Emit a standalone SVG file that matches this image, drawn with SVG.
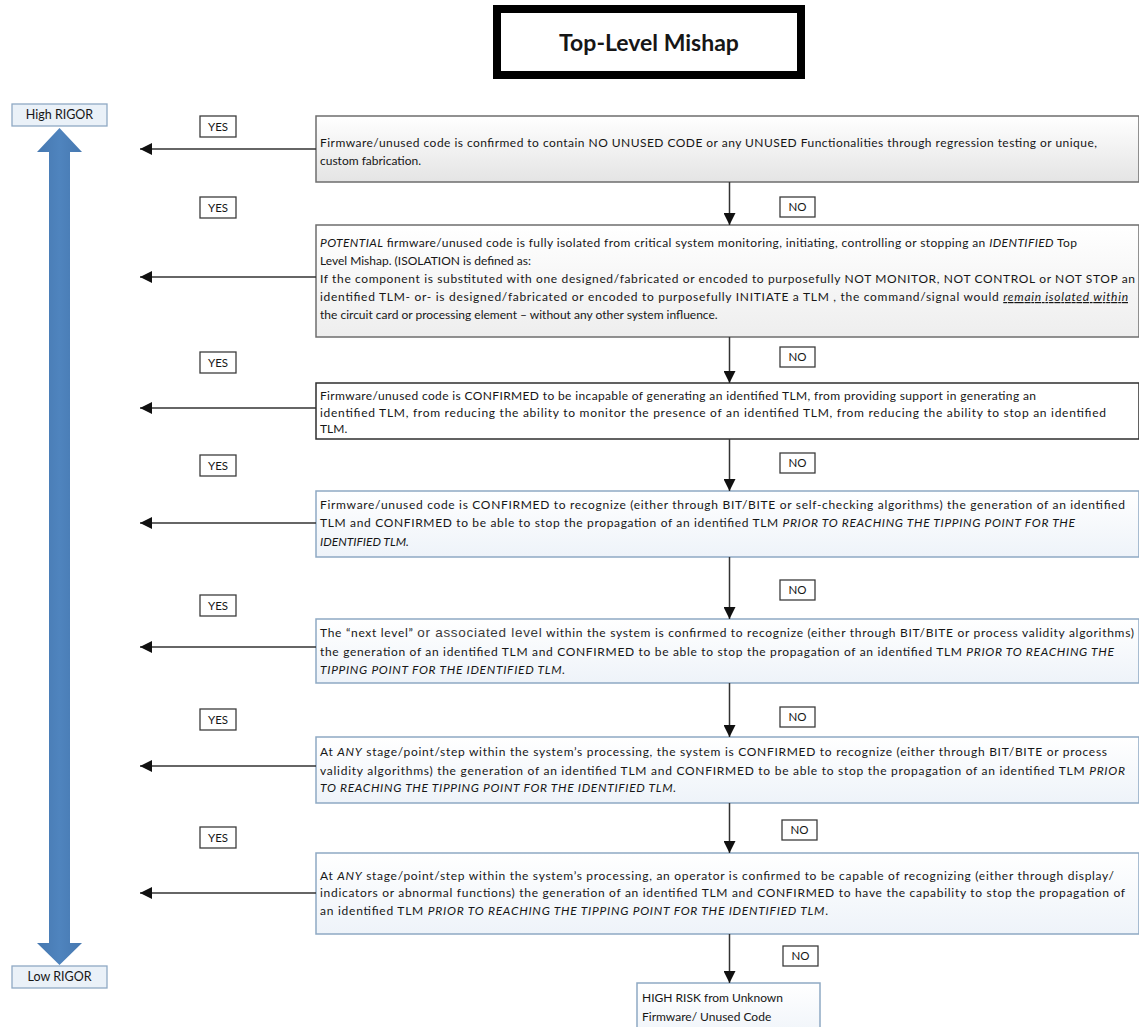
<svg xmlns="http://www.w3.org/2000/svg" width="1139" height="1027" viewBox="0 0 1139 1027">
  <defs>
    <linearGradient id="gGray" x1="0" y1="0" x2="0" y2="1">
      <stop offset="0" stop-color="#ffffff"/>
      <stop offset="1" stop-color="#e4e4e4"/>
    </linearGradient>
    <linearGradient id="gGrayLight" x1="0" y1="0" x2="0" y2="1">
      <stop offset="0" stop-color="#ffffff"/>
      <stop offset="1" stop-color="#eeeeee"/>
    </linearGradient>
    <linearGradient id="gBlue" x1="0" y1="0" x2="0" y2="1">
      <stop offset="0" stop-color="#ffffff"/>
      <stop offset="1" stop-color="#eef3f9"/>
    </linearGradient>
    <linearGradient id="gShaft" x1="0" y1="0" x2="1" y2="0">
      <stop offset="0" stop-color="#4678b0"/>
      <stop offset="0.5" stop-color="#4f84be"/>
      <stop offset="1" stop-color="#4678b0"/>
    </linearGradient>
    <marker id="head" viewBox="0 0 12 12" refX="12" refY="6" markerWidth="12" markerHeight="12" markerUnits="userSpaceOnUse" orient="auto">
      <path d="M0,0 L12,6 L0,12 Z" fill="#111"/>
    </marker>
  </defs>
  <style>
    text { font-family: Lato, "Liberation Sans", sans-serif; fill: #161616; }
    .body { font-size: 12px; }
    .it { font-style: italic; }
    .lbl { font-size: 11.5px; text-anchor: middle; }
    .tag { fill: #ffffff; stroke: #3c3c3c; stroke-width: 1.3; }
    .rig { fill: #eaf1f8; stroke: #8fa9c4; stroke-width: 1.3; }
    .boxGray { fill: url(#gGray); stroke: #6e6e6e; stroke-width: 1.5; }
    .boxGrayL { fill: url(#gGrayLight); stroke: #6e6e6e; stroke-width: 1.5; }
    .boxDark { fill: #ffffff; stroke: #2e2e2e; stroke-width: 1.5; }
    .boxBlue { fill: url(#gBlue); stroke: #8ea9c3; stroke-width: 1.5; }
    .conn { stroke: #333333; stroke-width: 1.5; fill: none; marker-end: url(#head); }
    .title { font-size: 23px; font-weight: bold; text-anchor: middle; }
  </style>

  <rect width="1139" height="1027" fill="#ffffff"/>

  <!-- heading -->
  <g id="top-level-mishap">
    <rect x="497" y="9" width="304" height="66" fill="#ffffff" stroke="#000000" stroke-width="8"/>
    <text class="title" x="649" y="51">Top-Level Mishap</text>
  </g>

  <!-- rigor scale on the left -->
  <g id="rigor-scale">
    <polygon points="59.5,128 82,152 70,152 70,943 82,943 59.5,965 37,943 49,943 49,152 37,152" fill="url(#gShaft)"/>
  </g>
  <g id="high-rigor">
    <rect class="rig" x="12" y="104" width="95" height="22"/>
    <text class="lbl" x="59.5" y="119" style="font-size:12.5px">High RIGOR</text>
  </g>
  <g id="low-rigor">
    <rect class="rig" x="12" y="966" width="95" height="22"/>
    <text class="lbl" x="59.5" y="981" style="font-size:12.5px">Low RIGOR</text>
  </g>

  <!-- decision steps -->
  <g id="step1">
    <rect class="boxGray" x="316" y="116" width="823" height="66"/>
    <text class="body" x="320" y="147" textLength="777">Firmware/unused code is confirmed to contain NO UNUSED CODE or any UNUSED Functionalities through regression testing or unique,</text>
    <text class="body" x="320" y="165">custom fabrication.</text>
  </g>

  <g id="step2">
    <rect class="boxGrayL" x="316" y="225" width="823" height="112"/>
    <text class="body" x="320" y="247" textLength="757"><tspan class="it">POTENTIAL</tspan> firmware/unused code is fully isolated from critical system monitoring, initiating, controlling or stopping an <tspan class="it">IDENTIFIED</tspan> Top</text>
    <text class="body" x="320" y="265">Level Mishap. (ISOLATION is defined as:</text>
    <text class="body" x="320" y="283" textLength="815">If the component is substituted with one designed/fabricated or encoded to purposefully  NOT MONITOR, NOT CONTROL or NOT STOP an</text>
    <text class="body" x="320" y="301" textLength="808">identified TLM- or- is designed/fabricated or encoded to purposefully INITIATE a TLM , the command/signal would <tspan class="it" text-decoration="underline">remain isolated within</tspan></text>
    <text class="body" x="320" y="319">the circuit card or processing element – without any other system influence.</text>
  </g>

  <g id="step3">
    <rect class="boxDark" x="316" y="383" width="823" height="56"/>
    <text class="body" x="320" y="400" textLength="716">Firmware/unused code is CONFIRMED to be incapable of generating an identified TLM, from providing support in generating  an</text>
    <text class="body" x="320" y="417" textLength="786">identified TLM, from reducing the ability to monitor the presence of  an identified TLM, from reducing the ability to stop an identified</text>
    <text class="body" x="320" y="433">TLM.</text>
  </g>

  <g id="step4">
    <rect class="boxBlue" x="316" y="491" width="823" height="66"/>
    <text class="body" x="320" y="509" textLength="805">Firmware/unused code is CONFIRMED to recognize (either through BIT/BITE or self-checking algorithms) the generation of an identified</text>
    <text class="body" x="320" y="527" textLength="755">TLM and CONFIRMED to be able to stop the propagation of an identified TLM <tspan class="it">PRIOR TO REACHING THE TIPPING POINT FOR THE</tspan></text>
    <text class="body it" x="320" y="546">IDENTIFIED TLM.</text>
  </g>

  <g id="step5">
    <rect class="boxBlue" x="316" y="619" width="823" height="64"/>
    <text class="body" x="320" y="637" textLength="814">The “next level” <tspan style="font-family:'Liberation Sans',sans-serif;font-size:13.5px;fill:#3a3a3a">or associated level</tspan> within the system is confirmed to recognize (either through BIT/BITE or process validity algorithms)</text>
    <text class="body" x="320" y="656" textLength="794">the generation of an identified TLM and CONFIRMED to be able to stop the propagation of an identified TLM <tspan class="it">PRIOR TO REACHING THE</tspan></text>
    <text class="body it" x="320" y="674" textLength="245">TIPPING POINT FOR THE IDENTIFIED TLM.</text>
  </g>

  <g id="step6">
    <rect class="boxBlue" x="316" y="737" width="823" height="66"/>
    <text class="body" x="320" y="756" textLength="787">At <tspan class="it">ANY</tspan> stage/point/step within the system’s processing,  the system is CONFIRMED  to recognize (either through BIT/BITE or process</text>
    <text class="body" x="320" y="775" textLength="805">validity algorithms) the generation of an identified TLM and CONFIRMED to be able to stop the propagation of an identified TLM  <tspan class="it">PRIOR</tspan></text>
    <text class="body it" x="320" y="792" textLength="356">TO REACHING THE TIPPING POINT FOR THE IDENTIFIED TLM.</text>
  </g>

  <g id="step7">
    <rect class="boxBlue" x="316" y="853" width="823" height="81"/>
    <text class="body" x="320" y="880" textLength="794">At <tspan class="it">ANY</tspan> stage/point/step within the system’s processing,  an operator is confirmed to be capable of recognizing (either through display/</text>
    <text class="body" x="320" y="897" textLength="805">indicators or abnormal functions) the generation of an identified TLM and CONFIRMED to have the capability to stop the propagation of</text>
    <text class="body" x="320" y="915" textLength="508">an identified TLM  <tspan class="it">PRIOR TO REACHING THE TIPPING POINT FOR THE IDENTIFIED TLM</tspan>.</text>
  </g>

  <g id="high-risk">
    <rect class="boxBlue" x="637" y="983" width="183" height="60"/>
    <text class="body" x="642" y="1002">HIGH RISK from Unknown</text>
    <text class="body" x="642" y="1021">Firmware/ Unused Code</text>
  </g>

  <!-- connectors -->
  <g id="connectors">
    <line class="conn" x1="316" y1="149" x2="140" y2="149"/>
    <line class="conn" x1="316" y1="277" x2="140" y2="277"/>
    <line class="conn" x1="316" y1="408" x2="140" y2="408"/>
    <line class="conn" x1="316" y1="523" x2="140" y2="523"/>
    <line class="conn" x1="316" y1="647" x2="140" y2="647"/>
    <line class="conn" x1="316" y1="766" x2="140" y2="766"/>
    <line class="conn" x1="316" y1="893" x2="140" y2="893"/>

    <line class="conn" x1="729.5" y1="182" x2="729.5" y2="225"/>
    <line class="conn" x1="729.5" y1="337" x2="729.5" y2="383"/>
    <line class="conn" x1="729.5" y1="439" x2="729.5" y2="491"/>
    <line class="conn" x1="729.5" y1="557" x2="729.5" y2="619"/>
    <line class="conn" x1="729.5" y1="683" x2="729.5" y2="737"/>
    <line class="conn" x1="729.5" y1="803" x2="729.5" y2="853"/>
    <line class="conn" x1="729.5" y1="934" x2="729.5" y2="983"/>
  </g>

  <!-- branch labels -->
  <g id="yes-labels">
    <rect class="tag" x="200" y="116" width="36" height="21"/><text class="lbl" x="218" y="130.5">YES</text>
    <rect class="tag" x="200" y="197" width="36" height="21"/><text class="lbl" x="218" y="211.5">YES</text>
    <rect class="tag" x="200" y="352" width="36" height="21"/><text class="lbl" x="218" y="366.5">YES</text>
    <rect class="tag" x="200" y="455" width="36" height="21"/><text class="lbl" x="218" y="469.5">YES</text>
    <rect class="tag" x="200" y="595" width="36" height="21"/><text class="lbl" x="218" y="609.5">YES</text>
    <rect class="tag" x="200" y="709" width="36" height="21"/><text class="lbl" x="218" y="723.5">YES</text>
    <rect class="tag" x="200" y="827" width="36" height="21"/><text class="lbl" x="218" y="841.5">YES</text>
  </g>
  <g id="no-labels">
    <rect class="tag" x="780" y="197" width="35" height="20"/><text class="lbl" x="797.5" y="211">NO</text>
    <rect class="tag" x="780" y="347" width="35" height="20"/><text class="lbl" x="797.5" y="361">NO</text>
    <rect class="tag" x="780" y="453" width="35" height="20"/><text class="lbl" x="797.5" y="467">NO</text>
    <rect class="tag" x="780" y="580" width="35" height="20"/><text class="lbl" x="797.5" y="594">NO</text>
    <rect class="tag" x="780" y="707" width="35" height="20"/><text class="lbl" x="797.5" y="721">NO</text>
    <rect class="tag" x="782" y="820" width="35" height="20"/><text class="lbl" x="799.5" y="834">NO</text>
    <rect class="tag" x="783" y="946" width="35" height="20"/><text class="lbl" x="800.5" y="960">NO</text>
  </g>
</svg>
